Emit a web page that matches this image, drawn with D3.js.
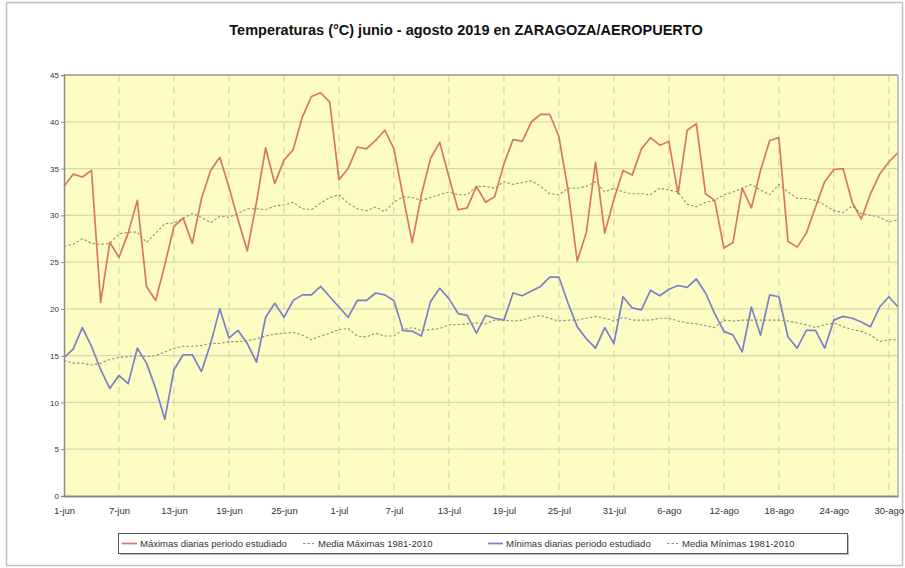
<!DOCTYPE html>
<html>
<head>
<meta charset="utf-8">
<style>
body { margin: 0; background: #fff; font-family: "Liberation Sans", Arial, sans-serif; }
svg { display: block; }
.tick text { fill: #333; }
</style>
</head>
<body>
<script src="https://d3js.org/d3.v7.min.js"></script>
<script>
// daily values, 1-jun .. 31-ago 2019 (92 days)
var maximas = [33.1, 34.4, 34.1, 34.8, 20.7, 27.1, 25.5, 28.1, 31.6, 22.4,
  20.9, 24.7, 28.8, 29.7, 27.0, 31.8, 34.8, 36.2, 33.0, 29.5,
  26.2, 31.4, 37.2, 33.4, 35.9, 37.0, 40.5, 42.7, 43.1, 42.1,
  33.8, 35.0, 37.3, 37.1, 38.0, 39.1, 37.1, 32.0, 27.1, 32.2,
  36.1, 37.8, 34.1, 30.6, 30.8, 33.1, 31.4, 32.0, 35.5, 38.1,
  37.9, 40.0, 40.8, 40.8, 38.4, 32.7, 25.1, 28.2, 35.7, 28.1,
  31.7, 34.8, 34.3, 37.1, 38.3, 37.5, 37.9, 32.3, 39.1, 39.8,
  32.3, 31.6, 26.5, 27.1, 32.9, 30.8, 34.8, 38.0, 38.3, 27.2,
  26.6, 28.1, 30.9, 33.6, 34.9, 35.0, 31.4, 29.6, 32.3, 34.4,
  35.7, 36.7];
var mediaMaximas = [26.7, 26.9, 27.5, 27.0, 26.9, 27.0, 28.0, 28.2, 28.2, 27.1,
  28.1, 29.1, 29.2, 29.7, 30.2, 29.8, 29.2, 29.9, 29.8, 30.2,
  30.7, 30.7, 30.6, 31.0, 31.1, 31.4, 30.7, 30.6, 31.3, 31.9,
  32.2, 31.3, 30.7, 30.5, 30.9, 30.4, 31.4, 32.0, 31.9, 31.6,
  31.9, 32.2, 32.5, 32.2, 32.2, 33.1, 33.1, 32.9, 33.6, 33.3,
  33.5, 33.7, 33.1, 32.3, 32.2, 32.9, 32.9, 33.1, 33.6, 32.5,
  32.9, 32.5, 32.3, 32.3, 32.2, 32.9, 32.7, 32.5, 31.2, 30.9,
  31.4, 31.6, 32.2, 32.5, 32.9, 33.3, 32.7, 32.2, 33.3, 32.5,
  31.8, 31.8, 31.6, 31.1, 30.5, 30.3, 31.0, 30.2, 30.0, 29.8,
  29.3, 29.5];
var minimas = [14.8, 15.7, 18.0, 16.0, 13.5, 11.5, 12.9, 12.0, 15.8, 14.2,
  11.5, 8.2, 13.5, 15.1, 15.1, 13.3, 16.3, 20.0, 16.9, 17.7,
  16.3, 14.3, 19.1, 20.6, 19.1, 20.9, 21.5, 21.5, 22.4, 21.3,
  20.2, 19.1, 20.9, 20.9, 21.7, 21.5, 20.9, 17.7, 17.6, 17.1,
  20.8, 22.2, 21.1, 19.5, 19.3, 17.4, 19.3, 19.0, 18.8, 21.7,
  21.4, 21.9, 22.4, 23.4, 23.4, 20.6, 18.1, 16.8, 15.8, 18.0,
  16.3, 21.3, 20.1, 19.9, 22.0, 21.4, 22.1, 22.5, 22.3, 23.2,
  21.7, 19.5, 17.6, 17.2, 15.4, 20.2, 17.2, 21.5, 21.3, 17.0,
  15.8, 17.7, 17.7, 15.8, 18.8, 19.2, 19.0, 18.6, 18.1, 20.2,
  21.3, 20.2];
var mediaMinimas = [14.5, 14.2, 14.2, 14.0, 14.2, 14.6, 14.8, 14.9, 15.0, 14.9,
  15.0, 15.4, 15.8, 16.0, 16.0, 16.1, 16.3, 16.3, 16.5, 16.5,
  16.6, 16.8, 17.1, 17.3, 17.4, 17.5, 17.2, 16.7, 17.1, 17.4,
  17.8, 17.9, 17.1, 17.0, 17.4, 17.1, 17.1, 17.8, 18.0, 17.7,
  17.8, 17.9, 18.3, 18.3, 18.4, 18.5, 18.4, 18.8, 18.8, 18.7,
  18.8, 19.1, 19.3, 19.0, 18.7, 18.8, 18.8, 19.0, 19.2, 19.0,
  18.7, 19.1, 18.8, 18.8, 18.8, 19.0, 19.0, 18.7, 18.5, 18.4,
  18.2, 18.0, 18.8, 18.7, 18.8, 18.8, 18.8, 18.8, 18.8, 18.7,
  18.5, 18.3, 18.0, 18.3, 18.5, 18.1, 17.8, 17.6, 17.2, 16.5,
  16.7, 16.7];

var tickDays = [0, 6, 12, 18, 24, 30, 36, 42, 48, 54, 60, 66, 72, 78, 84, 90];
var tickLabels = ["1-jun", "7-jun", "13-jun", "19-jun", "25-jun", "1-jul", "7-jul",
  "13-jul", "19-jul", "25-jul", "31-jul", "6-ago", "12-ago", "18-ago", "24-ago", "30-ago"];
var yTicks = [0, 5, 10, 15, 20, 25, 30, 35, 40, 45];

var series = [
  {name: "Máximas diarias periodo estudiado", values: maximas, color: "#d97763", dash: null, w: 1.7},
  {name: "Media Máximas 1981-2010", values: mediaMaximas, color: "#8f8f80", dash: "2.5,2", w: 1.1},
  {name: "Mínimas diarias periodo estudiado", values: minimas, color: "#7c80c8", dash: null, w: 1.7},
  {name: "Media Mínimas 1981-2010", values: mediaMinimas, color: "#8f8f80", dash: "2.5,2", w: 1.1}
];

var W = 905, H = 568;
var plotL = 64, plotR = 898, plotT = 75, plotB = 496;

var svg = d3.select("body").append("svg")
    .attr("width", W)
    .attr("height", H);

// outer frame
svg.append("rect")
    .attr("x", 6.5).attr("y", 2.5)
    .attr("width", 896).attr("height", 563)
    .attr("fill", "#fff")
    .attr("stroke", "#c0c0c0")
    .attr("stroke-width", 1.5);

svg.append("text")
    .attr("x", 466).attr("y", 35)
    .attr("text-anchor", "middle")
    .style("font-size", "14.5px")
    .style("font-weight", "bold")
    .style("fill", "#111")
    .text("Temperaturas (°C) junio - agosto 2019 en ZARAGOZA/AEROPUERTO");

var x = d3.scaleLinear().domain([0, 91]).range([plotL, plotR]);
var y = d3.scaleLinear().domain([0, 45]).range([plotB, plotT]);

svg.append("rect")
    .attr("x", plotL).attr("y", plotT)
    .attr("width", plotR - plotL).attr("height", plotB - plotT)
    .attr("fill", "#fdfcc3");

// horizontal grid
svg.append("g")
    .selectAll("line")
    .data(yTicks.slice(1))
    .enter().append("line")
    .attr("x1", plotL).attr("x2", plotR)
    .attr("y1", function(d) { return y(d); })
    .attr("y2", function(d) { return y(d); })
    .attr("stroke", "#d9d6b4")
    .attr("stroke-width", 1.2);

// vertical dashed grid
svg.append("g")
    .selectAll("line")
    .data(tickDays.slice(1))
    .enter().append("line")
    .attr("x1", function(d) { return x(d); })
    .attr("x2", function(d) { return x(d); })
    .attr("y1", plotT).attr("y2", plotB)
    .attr("stroke", "#d6d3b4")
    .attr("stroke-width", 1.2)
    .attr("stroke-dasharray", "7,5");

var line = d3.line()
    .x(function(d, i) { return x(i); })
    .y(function(d) { return y(d); });

svg.append("g")
    .selectAll("path")
    .data(series)
    .enter().append("path")
    .attr("d", function(d) { return line(d.values); })
    .attr("fill", "none")
    .attr("stroke", function(d) { return d.color; })
    .attr("stroke-width", function(d) { return d.w; })
    .attr("stroke-dasharray", function(d) { return d.dash; })
    .attr("stroke-linejoin", "round");

// plot frame
svg.append("line").attr("x1", plotL).attr("x2", plotR).attr("y1", plotT).attr("y2", plotT)
    .attr("stroke", "#b0b0a8").attr("stroke-width", 2);
svg.append("line").attr("x1", plotR).attr("x2", plotR).attr("y1", plotT).attr("y2", plotB)
    .attr("stroke", "#b0b0a8").attr("stroke-width", 1.5);

var yAxis = d3.axisLeft(y).tickValues(yTicks).tickSize(3).tickPadding(2);
var gy = svg.append("g")
    .attr("transform", "translate(" + plotL + ",0)")
    .call(yAxis);
gy.select(".domain").attr("stroke", "#8a8a8a").attr("stroke-width", 1.5);
gy.selectAll(".tick line").attr("stroke", "#8a8a8a");
gy.selectAll(".tick text").style("font-size", "8px");

var xAxis = d3.axisBottom(x).tickValues(tickDays)
    .tickFormat(function(d, i) { return tickLabels[i]; })
    .tickSize(0).tickPadding(11);
var gx = svg.append("g")
    .attr("transform", "translate(0," + plotB + ")")
    .call(xAxis);
gx.select(".domain").attr("stroke", "#8a8a8a").attr("stroke-width", 2);
gx.selectAll(".tick text").style("font-size", "9.5px");

// legend
var legend = svg.append("g");
legend.append("rect")
    .attr("x", 120).attr("y", 535)
    .attr("width", 729).attr("height", 20)
    .attr("fill", "#bbb");
legend.append("rect")
    .attr("x", 118.5).attr("y", 533.5)
    .attr("width", 729).attr("height", 20)
    .attr("fill", "#fff")
    .attr("stroke", "#555");

var legendItems = [
  {s: series[0], lx: 122, len: 15, tx: 140},
  {s: series[1], lx: 303, len: 11, tx: 318},
  {s: series[2], lx: 488, len: 15, tx: 506},
  {s: series[3], lx: 667, len: 11, tx: 682}
];
var li = legend.selectAll("g.item")
    .data(legendItems)
    .enter().append("g")
    .attr("class", "item");
li.append("line")
    .attr("x1", function(d) { return d.lx; })
    .attr("x2", function(d) { return d.lx + d.len; })
    .attr("y1", 543.5).attr("y2", 543.5)
    .attr("stroke", function(d) { return d.s.color; })
    .attr("stroke-width", function(d) { return d.s.w; })
    .attr("stroke-dasharray", function(d) { return d.s.dash; });
li.append("text")
    .attr("x", function(d) { return d.tx; })
    .attr("y", 547)
    .style("font-size", "9.5px")
    .style("fill", "#333")
    .text(function(d) { return d.s.name; });
</script>
</body>
</html>
